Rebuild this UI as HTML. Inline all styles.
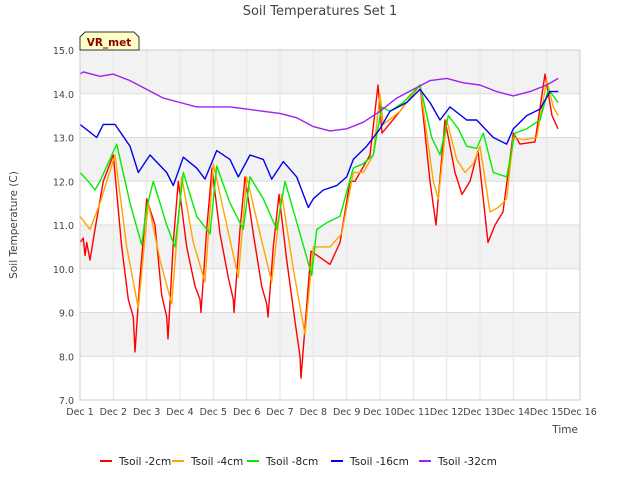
<!DOCTYPE html>
<html><head><meta charset="utf-8"><style>
body{margin:0;background:#fff;font-family:"DejaVu Sans",sans-serif}
svg text{font-family:"DejaVu Sans",sans-serif}
</style></head><body>
<svg id="chart" width="640" height="480" viewBox="0 0 640 480" xmlns="http://www.w3.org/2000/svg">
<text x="320" y="15" text-anchor="middle" font-size="13" fill="#444">Soil Temperatures Set 1</text>
<g id="bands"></g><g id="grid"></g><g id="series"></g><g id="axes"></g>
<text transform="translate(17,225) rotate(-90)" text-anchor="middle" font-size="10.5" fill="#444">Soil Temperature (C)</text>
<text x="578" y="433" text-anchor="end" font-size="10.5" fill="#444">Time</text>
<g>
<path d="M80,50 L80,37 L85,32 L134,32 L139,37 L139,50 Z" fill="#ffffc8" stroke="#333" stroke-width="1"/>
<text x="109" y="46" text-anchor="middle" font-size="10.5" font-weight="bold" fill="#8b0000">VR_met</text>
</g>
<g id="legend"></g>
</svg>
<script>
const yTicks=[7,8,9,10,11,12,13,14,15];
const xTickLabels=["Dec 1","Dec 2","Dec 3","Dec 4","Dec 5","Dec 6","Dec 7","Dec 8","Dec 9","Dec 10","Dec 11","Dec 12","Dec 13","Dec 14","Dec 15","Dec 16"];
const seriesNames=["Tsoil -2cm","Tsoil -4cm","Tsoil -8cm","Tsoil -16cm","Tsoil -32cm"];
const seriesColors=["#ff0000","#ffa500","#00ee00","#0000ee","#a020f0"];
const t2=[0,0.1,0.15,0.2,0.3,0.45,0.7,1.0,1.25,1.45,1.6,1.65,1.8,2.0,2.25,2.45,2.6,2.64,2.8,2.95,3.2,3.45,3.6,3.63,3.8,3.96,4.2,4.45,4.6,4.62,4.8,4.95,5.2,5.45,5.6,5.64,5.8,5.97,6.2,6.45,6.6,6.63,6.93,7.5,7.8,8.1,8.25,8.7,8.94,9.06,9.6,10.2,10.5,10.68,10.95,11.25,11.46,11.7,11.94,12.24,12.45,12.69,13.0,13.2,13.65,13.95,14.16,14.34];
const v2=[10.6,10.7,10.3,10.6,10.2,10.9,12.0,12.6,10.5,9.3,8.9,8.1,9.8,11.6,11.0,9.4,8.9,8.4,10.6,12.0,10.5,9.6,9.3,9.0,10.9,12.3,10.8,9.8,9.3,9.0,10.9,12.1,10.8,9.6,9.2,8.9,10.5,11.7,10.2,8.8,8.0,7.5,10.4,10.1,10.6,12.0,12.0,12.6,14.2,13.1,13.6,14.2,12.0,11.0,13.4,12.2,11.7,12.0,12.7,10.6,11.0,11.3,13.1,12.85,12.9,14.45,13.5,13.2];
const t4=[0,0.3,0.6,1.05,1.4,1.75,2.05,2.4,2.75,3.05,3.4,3.75,4.0,4.4,4.75,5.0,5.4,5.75,6.05,6.4,6.75,7.0,7.5,7.85,8.2,8.5,8.8,9.0,9.1,9.6,10.2,10.6,10.75,11.0,11.3,11.55,11.8,12.0,12.3,12.55,12.8,13.0,13.3,13.7,14.0,14.2,14.35];
const v4=[11.2,10.9,11.5,12.6,10.5,9.1,11.5,10.2,9.2,12.1,10.6,9.7,12.4,11.0,9.8,12.1,10.8,9.7,11.7,10.0,8.5,10.5,10.5,10.8,12.2,12.2,12.6,14.0,13.3,13.6,14.2,12.0,11.6,13.4,12.5,12.2,12.4,12.8,11.3,11.4,11.6,13.0,12.95,13.0,14.3,13.7,13.5];
const t8=[0,0.25,0.45,0.6,1.1,1.5,1.85,2.0,2.2,2.6,2.85,3.1,3.5,3.9,4.1,4.5,4.9,5.1,5.5,5.9,6.15,6.6,6.95,7.1,7.4,7.8,8.2,8.5,8.8,9.05,9.3,9.7,10.2,10.55,10.8,11.05,11.35,11.6,11.9,12.1,12.4,12.8,13.05,13.4,13.8,14.05,14.35];
const v8=[12.2,12.0,11.8,12.0,12.85,11.5,10.55,11.4,12.0,11.0,10.5,12.2,11.2,10.8,12.35,11.5,10.9,12.1,11.6,10.9,12.0,10.8,9.85,10.9,11.05,11.2,12.3,12.4,12.6,13.7,13.6,13.8,14.2,13.0,12.6,13.5,13.2,12.8,12.75,13.1,12.2,12.1,13.1,13.2,13.4,14.1,13.8];
const t16=[0,0.5,0.7,1.05,1.5,1.75,2.1,2.6,2.8,3.1,3.5,3.75,4.1,4.5,4.75,5.1,5.5,5.75,6.1,6.5,6.85,7.0,7.3,7.7,8.0,8.2,8.6,9.0,9.3,9.8,10.2,10.5,10.8,11.1,11.6,11.9,12.4,12.8,13.0,13.4,13.8,14.1,14.35];
const v16=[13.3,13.0,13.3,13.3,12.8,12.2,12.6,12.2,11.9,12.55,12.3,12.05,12.7,12.5,12.1,12.6,12.5,12.05,12.45,12.1,11.4,11.6,11.8,11.9,12.1,12.5,12.8,13.2,13.6,13.8,14.1,13.8,13.4,13.7,13.4,13.4,13.0,12.85,13.2,13.5,13.65,14.05,14.05];
const t32=[0,0.1,0.6,1.0,1.5,2.0,2.5,3.0,3.5,4.0,4.5,5.0,5.5,6.0,6.5,7.0,7.5,8.0,8.5,9.0,9.5,10.0,10.5,11.0,11.5,12.0,12.5,13.0,13.5,14.0,14.35];
const v32=[14.45,14.5,14.4,14.45,14.3,14.1,13.9,13.8,13.7,13.7,13.7,13.65,13.6,13.55,13.45,13.25,13.15,13.2,13.35,13.6,13.9,14.1,14.3,14.35,14.25,14.2,14.05,13.95,14.05,14.2,14.35];
const allT=[t2,t4,t8,t16,t32], allV=[v2,v4,v8,v16,v32];
const X0=80,X1=580,Y0=400,Y1=50;
function xs(t){return X0+t*(X1-X0)/15;}
function ys(v){return Y0-(v-7)*(Y0-Y1)/8;}
const NS="http://www.w3.org/2000/svg";
function mk(tag,attrs,parent){const e=document.createElementNS(NS,tag);for(const k in attrs)e.setAttribute(k,attrs[k]);parent.appendChild(e);return e;}
const bands=document.getElementById('bands'),grid=document.getElementById('grid'),axes=document.getElementById('axes'),ser=document.getElementById('series'),leg=document.getElementById('legend');
for(let v=8;v<15;v+=2){const r=mk('rect',{x:X0,y:ys(v+1),width:X1-X0,height:ys(v)-ys(v+1),fill:'#f2f2f2'},bands);

}
yTicks.forEach(v=>{const l=mk('line',{x1:X0,x2:X1,y1:ys(v),y2:ys(v),stroke:'#dcdcdc','stroke-width':1},grid);


const tk=mk('text',{x:X0-6,y:ys(v)+4,'text-anchor':'end','font-size':9.5,fill:'#444'},axes);tk.textContent=v.toFixed(1);

});
xTickLabels.forEach((s,i)=>{const l=mk('line',{x1:xs(i),x2:xs(i),y1:Y1,y2:Y0,stroke:'#e6e6e6','stroke-width':1},grid);


const tk=mk('text',{x:xs(i),y:Y0+15,'text-anchor':'middle','font-size':9.5,fill:'#444'},axes);tk.textContent=s;

});
const fr=mk('rect',{x:X0,y:Y1,width:X1-X0,height:Y0-Y1,fill:'none',stroke:'#ccc'},axes);


allT.forEach((T,s)=>{const d=T.map((t,i)=>(i?'L':'M')+xs(t).toFixed(1)+','+ys(allV[s][i]).toFixed(1)).join(' ');
const p=mk('path',{d:d,fill:'none',stroke:seriesColors[s],'stroke-width':1.4,'stroke-linejoin':'round'},ser);

});
const lx=[100,172,247,331,419];
seriesNames.forEach((n,i)=>{const g=mk('g',{},leg);


mk('line',{x1:lx[i],x2:lx[i]+12,y1:461,y2:461,stroke:seriesColors[i],'stroke-width':2},g);
const tx=mk('text',{x:lx[i]+19,y:465,'font-size':10.5,fill:'#222'},g);tx.textContent=n;});
</script>
</body></html>
